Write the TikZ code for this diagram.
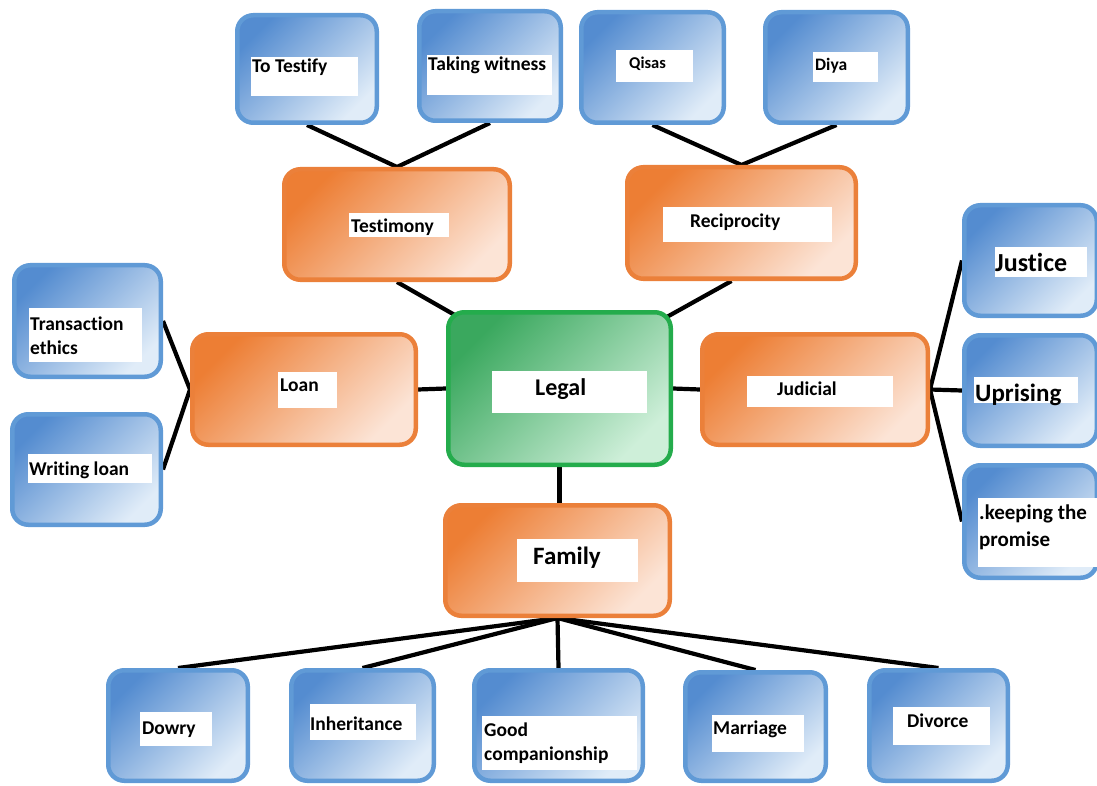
\documentclass[tikz,border=0pt]{standalone}
\usepackage{fontspec}
\setmainfont{Carlito}[Ligatures={NoCommon}]
\usetikzlibrary{calc,backgrounds}
\definecolor{bB}{RGB}{96,154,214}
\definecolor{bD}{RGB}{84,140,208}
\definecolor{bL}{RGB}{224,236,248}
\definecolor{oB}{RGB}{235,128,58}
\definecolor{oD}{RGB}{237,126,52}
\definecolor{oL}{RGB}{252,228,214}
\definecolor{gB}{RGB}{36,172,76}
\definecolor{gD}{RGB}{58,168,94}
\definecolor{gL}{RGB}{206,239,217}
\tikzset{
  boxbase/.style={rounded corners=16pt, line width=4.5pt, inner sep=0pt},
  bluebox/.style={boxbase, draw=bB, top color=bD, bottom color=bL, shading angle=45},
  orangebox/.style={boxbase, draw=oB, top color=oD, bottom color=oL, shading angle=45},
  greenbox/.style={boxbase, draw=gB, top color=gD, bottom color=gL, shading angle=45},
  conn/.style={line width=4.2pt, black},
  lbl/.style={anchor=base west, inner sep=0pt, text=black, font=\bfseries\fontsize{19.5}{23}\selectfont},
}
\newcommand\mybox[6]{\node[#2, minimum width={(#5-#3-4.5)*1pt}, minimum height={(#6-#4-4.5)*1pt}] (#1) at ({(#3+#5)/2},{(#4+#6)/2}) {};}
\newcommand\mylab[4]{\fill[white] (#1,#2) rectangle (#3,#4);}
\newcommand\mytxt[5][]{\node[lbl,#1] (#2) at (#3,#4) {#5};}
\begin{document}
\begin{tikzpicture}[x=1pt,y=-1pt]
\useasboundingbox (0,0) rectangle (1097,786);
% top blue boxes
\mybox{ttf}{bluebox}{235}{13}{379}{125}
\mylab{251}{57}{358}{96}
\mytxt{ttft}{252}{73}{To Testify}
\mybox{tkw}{bluebox}{417}{9}{563}{123}
\mylab{427}{55}{552}{95}
\mytxt{tkwt}{428}{71}{Taking witness}
\mybox{qis}{bluebox}{579}{10}{726}{125}
\mylab{616}{50}{693}{82}
\mytxt[font=\bfseries\fontsize{16.5}{19}\selectfont]{qist}{629}{68.5}{Qisas}
\mybox{diy}{bluebox}{763}{10}{910}{125}
\mylab{813}{52}{878}{82}
\mytxt[font=\bfseries\fontsize{17.5}{20}\selectfont]{diyt}{815}{71}{Diya}
% orange second row
\mybox{tes}{orangebox}{282}{167}{512}{282}
\mylab{349}{213}{449}{237}
\mytxt{test}{351}{232.5}{Testimony}
\mybox{rec}{orangebox}{625}{165}{858}{281}
\mylab{663}{207}{832}{242}
\mytxt{rect}{690}{228}{Reciprocity}
% left blue boxes
\mybox{trn}{bluebox}{12}{263}{163}{379}
\mylab{29}{308}{142}{362}
\mytxt{trnt}{30}{330}{Transaction}
\mytxt{trnu}{30}{354}{ethics}
\mybox{wrl}{bluebox}{10}{412}{163}{527}
\mylab{28}{454}{152}{483}
\mytxt{wrlt}{29}{475}{Writing loan}
% middle row
\mybox{lon}{orangebox}{190}{332}{418}{447}
\mylab{278}{372}{337}{408}
\mytxt{lont}{280}{391}{Loan}
\mybox{leg}{greenbox}{446}{310}{673}{467}
\mylab{492}{371}{647}{413}
\mytxt[font=\bfseries\fontsize{24}{28}\selectfont]{legt}{535}{395.5}{Legal}
\mybox{jud}{orangebox}{700}{332}{930}{447}
\mylab{747}{376}{893}{407}
\mytxt{judt}{777}{395}{Judicial}
% right blue boxes
\mybox{jus}{bluebox}{962}{203}{1099}{318}
\mylab{995}{247}{1087}{277}
\mytxt[font=\bfseries\fontsize{26}{30}\selectfont]{just}{995}{272}{Justice}
\mybox{upr}{bluebox}{962}{333}{1099}{448}
\mylab{974}{377}{1078}{403}
\mytxt[font=\bfseries\fontsize{25}{29}\selectfont]{uprt}{975}{401}{Uprising}
\mybox{kee}{bluebox}{962}{463}{1099}{580}
\mylab{978}{498}{1097}{567}
\mytxt[font=\bfseries\fontsize{21}{25}\selectfont]{keet}{979}{519.5}{.keeping the}
\mytxt[font=\bfseries\fontsize{21}{25}\selectfont]{keeu}{979}{546}{promise}
% family
\mybox{fam}{orangebox}{443}{503}{672}{618}
\mylab{517}{539}{638}{582}
\mytxt[font=\bfseries\fontsize{25}{29}\selectfont]{famt}{533}{564}{Family}
% bottom blue boxes
\mybox{dow}{bluebox}{106}{668}{250}{783}
\mylab{140}{712}{212}{746}
\mytxt{dowt}{142}{734.5}{Dowry}
\mybox{inh}{bluebox}{289}{668}{436}{783}
\mylab{310}{704}{416}{740}
\mytxt{inht}{310}{730.5}{Inheritance}
\mybox{goo}{bluebox}{472}{668}{645}{783}
\mylab{482}{716}{637}{770}
\mytxt{goot}{484}{736.5}{Good}
\mytxt{goou}{484}{760}{companionship}
\mybox{mar}{bluebox}{683}{670}{828}{783}
\mylab{712}{715}{804}{752}
\mytxt{mart}{713}{734.5}{Marriage}
\mybox{div}{bluebox}{867}{668}{1010}{783}
\mylab{893}{707}{990}{745}
\mytxt{divt}{907}{727.5}{Divorce}
% connectors
\begin{scope}[on background layer]
\draw[conn] (ttf.south) -- (tes.north) -- (tkw.south);
\draw[conn] (qis.south) -- (rec.north) -- (diy.south);
\draw[conn] (tes.south) -- ($(leg.north west)+(14,8)$);
\draw[conn] ($(rec.south)+(-10,0)$) -- ($(leg.north east)+(-8,8)$);
\draw[conn] (trn.east) -- (lon.west) -- (wrl.east);
\draw[conn] (lon.east) -- (leg.west);
\draw[conn] (leg.east) -- (jud.west);
\draw[conn] (jus.west) -- (jud.east) -- (upr.west);
\draw[conn] (jud.east) -- (kee.west);
\draw[conn] (leg.south) -- (leg.south |- fam.north);
\foreach \n in {dow,inh,goo,mar,div} \draw[conn] (fam.south) -- (\n.north);
\end{scope}
\end{tikzpicture}
\end{document}
